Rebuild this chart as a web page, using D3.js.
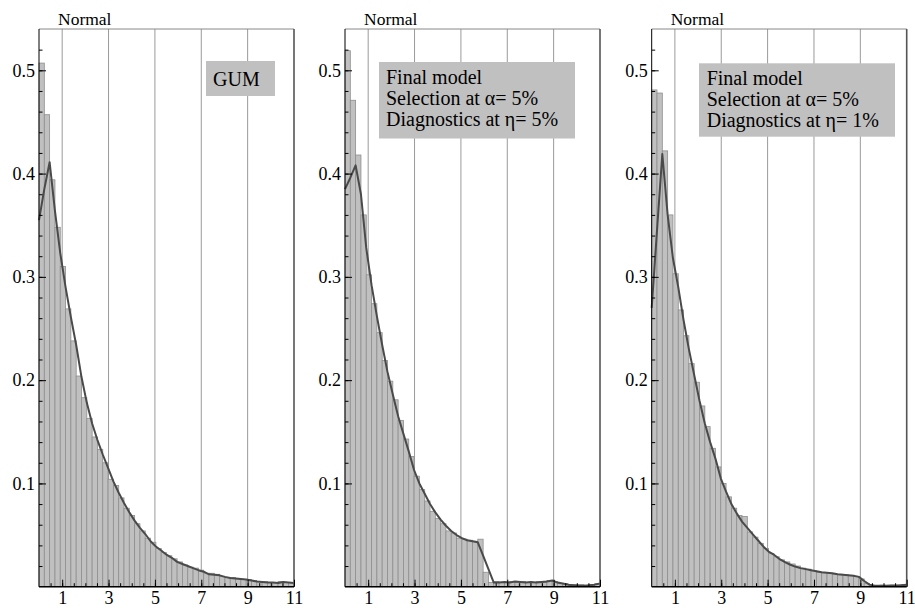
<!DOCTYPE html>
<html>
<head>
<meta charset="utf-8">
<script src="https://cdnjs.cloudflare.com/ajax/libs/d3/7.8.5/d3.min.js"></script>
<style>
  body { margin: 0; background: #fff; }
  svg, svg text { font-family: "Liberation Serif", "DejaVu Serif", serif; }
</style>
</head>
<body>
<svg id="chart"></svg>
<script>
// bin edges of the histograms (48 bins over 0..11)
var binEdges = [0, 0.229, 0.458, 0.688, 0.917, 1.146, 1.375, 1.604, 1.833, 2.063, 2.292, 2.521, 2.750, 2.979,
  3.208, 3.438, 3.667, 3.896, 4.125, 4.354, 4.583, 4.813, 5.042, 5.271, 5.500, 5.729, 5.958, 6.188, 6.417,
  6.646, 6.875, 7.104, 7.333, 7.563, 7.792, 8.021, 8.250, 8.479, 8.708, 8.938, 9.167, 9.396, 9.625, 9.854,
  10.083, 10.313, 10.542, 10.771, 11];

// GUM
var gumBars = [0.507, 0.457, 0.394, 0.348, 0.310, 0.269, 0.238, 0.204, 0.183, 0.163,
  0.145, 0.133, 0.120, 0.104, 0.098, 0.086, 0.076, 0.069, 0.061, 0.054,
  0.047, 0.043, 0.037, 0.033, 0.030, 0.027, 0.024, 0.021, 0.019, 0.018,
  0.016, 0.013, 0.013, 0.012, 0.010, 0.009, 0.009, 0.008, 0.007, 0.007,
  0.006, 0.005, 0.005, 0.004, 0.004, 0.005, 0.004, 0.004];
var gumCurve = [0.355, 0.385, 0.411, 0.364, 0.323, 0.290, 0.261, 0.234, 0.203, 0.178,
  0.158, 0.142, 0.128, 0.115, 0.102, 0.091, 0.081, 0.072, 0.064, 0.057,
  0.051, 0.044, 0.039, 0.035, 0.031, 0.028, 0.024, 0.022, 0.020, 0.018,
  0.016, 0.0145, 0.012, 0.0115, 0.011, 0.0095, 0.0085, 0.008, 0.0075, 0.007,
  0.006, 0.005, 0.0045, 0.004, 0.004, 0.0035, 0.0045, 0.004, 0.0035];

// final model, eta = 5%
var eta5Bars = [0.519, 0.471, 0.418, 0.360, 0.302, 0.274, 0.246, 0.219, 0.199, 0.181,
  0.161, 0.143, 0.126, 0.107, 0.094, 0.083, 0.073, 0.066, 0.061, 0.054,
  0.052, 0.047, 0.046, 0.045, 0.044, 0.046, 0.014, 0.004, 0.005, 0.004,
  0.004, 0.005, 0.004, 0.005, 0.004, 0.004, 0.005, 0.004, 0.006, 0.005,
  0.003, 0.003, 0.002, 0.002, 0.002, 0.001, 0.002, 0.003];
var eta5Curve = [0.385, 0.396, 0.408, 0.380, 0.328, 0.292, 0.262, 0.234, 0.208, 0.186,
  0.165, 0.148, 0.131, 0.113, 0.100, 0.090, 0.080, 0.072, 0.065, 0.059,
  0.054, 0.050, 0.047, 0.045, 0.044, 0.043, 0.030, 0.017, 0.004, 0.004,
  0.0045, 0.004, 0.005, 0.0045, 0.004, 0.0045, 0.004, 0.0045, 0.005, 0.006,
  0.004, 0.003, 0.002, 0.0015, 0.001, 0.001, 0.0015, 0.002, 0.003];

// final model, eta = 1%
var eta1Bars = [0.481, 0.478, 0.422, 0.360, 0.303, 0.268, 0.243, 0.216, 0.198, 0.175,
  0.155, 0.134, 0.116, 0.100, 0.087, 0.076, 0.069, 0.068, 0.053, 0.048,
  0.042, 0.037, 0.032, 0.029, 0.026, 0.024, 0.022, 0.020, 0.018, 0.017,
  0.0155, 0.014, 0.0135, 0.013, 0.012, 0.012, 0.0115, 0.011, 0.010, 0.0075,
  0.003, 0.0013, 0.001, 0.0015, 0.001, 0.0015, 0.001, 0.002];
var eta1Curve = [0.270, 0.345, 0.419, 0.360, 0.318, 0.290, 0.258, 0.230, 0.205, 0.180,
  0.158, 0.140, 0.124, 0.105, 0.092, 0.080, 0.071, 0.063, 0.057, 0.051,
  0.045, 0.039, 0.034, 0.031, 0.027, 0.024, 0.0215, 0.0195, 0.018, 0.017,
  0.016, 0.015, 0.014, 0.0135, 0.013, 0.012, 0.0115, 0.011, 0.0105, 0.0095,
  0.0055, 0.002, 0.001, 0.001, 0.001, 0.0012, 0.0012, 0.0015, 0.0018];

var xTickLabels = [1, 3, 5, 7, 9, 11];
var xMinorTicks = d3.range(0.5, 11, 0.5);
var gridValues = [1, 3, 5, 7, 9];
var yTickLabels = [0.1, 0.2, 0.3, 0.4, 0.5];
var yMinorTicks = d3.range(0.02, 0.53, 0.02);

var legends = [
  ["GUM"],
  ["Final model", "Selection at \u03b1= 5%", "Diagnostics at \u03b7= 5%"],
  ["Final model", "Selection at \u03b1= 5%", "Diagnostics at \u03b7= 1%"]
];

var panels = [
  { bars: gumBars, curve: gumCurve, left: 39,
    box: { x: 167, y: 61, w: 69, h: 35 }, text: { x: 174, y: 86 } },
  { bars: eta5Bars, curve: eta5Curve, left: 345,
    box: { x: 34, y: 62, w: 196, h: 76.5 }, text: { x: 41, y: 83.5 } },
  { bars: eta1Bars, curve: eta1Curve, left: 651.7,
    box: { x: 47.3, y: 63.3, w: 196, h: 73.4 }, text: { x: 55, y: 85 } }
];

var serif = "'Liberation Serif', 'DejaVu Serif', serif";
var width = 915, height = 610;
var plotTop = 29, plotBottom = 586.7, plotWidth = 255;

var svg = d3.select("#chart").attr("width", width).attr("height", height);

var yscale = d3.scaleLinear().domain([0, 0.54]).range([plotBottom, plotTop]);

panels.forEach(function(p, n) {
  var L = p.left;
  var xscale = d3.scaleLinear().domain([0, 11]).range([L, L + plotWidth]);
  var g = svg.append("g").attr("class", "panel");

  //Grid lines
  g.selectAll(".grid").data(gridValues).enter().append("line")
    .attr("class", "grid")
    .attr("x1", function(d){ return xscale(d); })
    .attr("x2", function(d){ return xscale(d); })
    .attr("y1", plotTop).attr("y2", plotBottom)
    .attr("stroke", "#9a9a9a").attr("stroke-width", 1);

  //Bars
  g.selectAll(".bar").data(p.bars).enter().append("rect")
    .attr("class", "bar")
    .attr("x", function(d, i){ return xscale(binEdges[i]); })
    .attr("width", function(d, i){ return xscale(binEdges[i + 1]) - xscale(binEdges[i]); })
    .attr("y", function(d){ return yscale(d); })
    .attr("height", function(d){ return yscale(0) - yscale(d); })
    .attr("fill", "#c0c0c0")
    .attr("stroke", "#8e8e8e")
    .attr("stroke-width", 0.8);

  //Density curve
  var line = d3.line()
    .x(function(d, i){ return xscale(binEdges[i]); })
    .y(function(d){ return yscale(d); });
  g.append("path").datum(p.curve)
    .attr("d", line)
    .attr("fill", "none")
    .attr("stroke", "#4a4a4a")
    .attr("stroke-width", 2)
    .attr("stroke-linejoin", "round");

  //Frame top and right
  g.append("line")
    .attr("x1", L).attr("x2", L + plotWidth).attr("y1", plotTop).attr("y2", plotTop)
    .attr("stroke", "#888").attr("stroke-width", 1);
  g.append("line")
    .attr("x1", L + plotWidth).attr("x2", L + plotWidth).attr("y1", plotTop).attr("y2", plotBottom)
    .attr("stroke", "#555").attr("stroke-width", 1.6);

  //Y axis
  g.append("g")
    .attr("transform", "translate(" + L + ",0)")
    .call(d3.axisLeft(yscale).tickValues(yMinorTicks).tickSize(-3.5).tickFormat(""))
    .call(function(a){ a.select(".domain").remove(); });
  var yax = g.append("g")
    .attr("transform", "translate(" + L + ",0)")
    .call(d3.axisLeft(yscale).tickValues(yTickLabels).tickSize(-7).tickPadding(4)
      .tickFormat(d3.format(".1f")).tickSizeOuter(0));
  yax.attr("font-family", serif).attr("font-size", 18);
  yax.select(".domain").attr("d", "M0," + plotTop + "V" + plotBottom).attr("stroke", "#000");
  yax.selectAll("text").style("font-family", serif).attr("fill", "#000");

  //X axis
  g.append("g")
    .attr("transform", "translate(0," + plotBottom + ")")
    .call(d3.axisBottom(xscale).tickValues(xMinorTicks).tickSize(-3.5).tickFormat(""))
    .call(function(a){ a.select(".domain").remove(); });
  var xax = g.append("g")
    .attr("transform", "translate(0," + plotBottom + ")")
    .call(d3.axisBottom(xscale).tickValues(xTickLabels).tickSize(-7).tickPadding(5)
      .tickFormat(d3.format("d")).tickSizeOuter(0));
  xax.attr("font-family", serif).attr("font-size", 18);
  xax.select(".domain").attr("d", "M" + L + ",0H" + (L + plotWidth)).attr("stroke", "#000").attr("stroke-width", 1.4);
  xax.selectAll("text").style("font-family", serif).attr("fill", "#000");

  //Title
  g.append("text")
    .attr("x", L + 19).attr("y", 25)
    .style("font-family", serif)
    .attr("font-size", 17.5)
    .text("Normal");

  //Legend box
  g.append("rect")
    .attr("x", L + p.box.x).attr("y", p.box.y)
    .attr("width", p.box.w).attr("height", p.box.h)
    .attr("fill", "#c0c0c0");
  g.selectAll(".legend").data(legends[n]).enter().append("text")
    .attr("class", "legend")
    .attr("x", L + p.text.x)
    .attr("y", function(d, i){ return p.text.y + i * 21; })
    .style("font-family", serif)
    .attr("font-size", 20)
    .attr("fill", "#000")
    .text(function(d){ return d; });
});
</script>
</body>
</html>
